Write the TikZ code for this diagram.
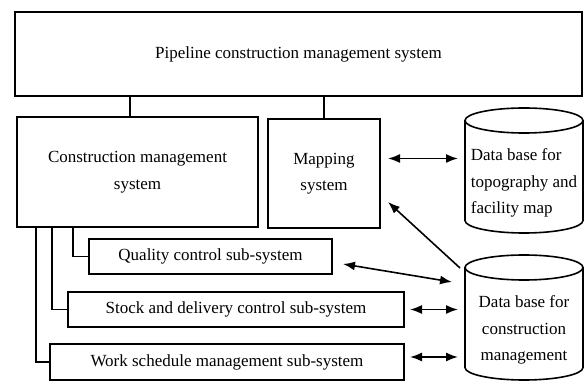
\documentclass[tikz,border=0pt]{standalone}
\usepackage{fontspec}
\setmainfont{Liberation Serif}
\usepackage{tikz}
\usetikzlibrary{arrows.meta,calc,positioning}
\newdimen\drumry
\drumry=12.5pt
\tikzstyle{module}=[
  draw=black,
  font={\fontsize{17}{26.5}\selectfont},
  inner sep=0pt,
  line width=1.6pt,
  outer sep=0pt,
  rectangle,
  align=center,
]
\tikzstyle{drum}=[
  font={\fontsize{17}{26.5}\selectfont},
  inner sep=0pt,
  outer sep=0pt,
  minimum width=118pt,
  minimum height=100pt,
]
\tikzstyle{link}=[
  draw=black,
  line width=1.6pt,
]
\tikzstyle{arrow}=[
  draw=black,
  line width=1.6pt,
]
\tikzset{
  tip/.tip={Latex[length=12pt,width=9pt]},
  >=tip,
}
% outline of a data base drum around a drum node
\newcommand{\drumline}[1]{%
  \draw [link] ([yshift=\drumry]#1.north west) -- ([yshift=\drumry]#1.south west)
    arc [start angle=180, end angle=360, x radius=59pt, y radius=\drumry]
    -- ([yshift=\drumry]#1.north east);
  \draw [link] ([yshift=\drumry]#1.north) ellipse [x radius=59pt, y radius=\drumry];
}

\begin{document}
\begin{tikzpicture}[x=1pt, y=-1pt]
  \useasboundingbox (0,0) rectangle (584,382);
  \node (pcms) [module, minimum width=567pt, minimum height=84pt] at (298.5,54) {Pipeline construction management system};
  \node (cms) [module, minimum width=241pt, minimum height=110pt] at (137.5,172) {Construction management\\system};
  \node (mapping) [module, minimum width=112pt, minimum height=109pt] at (324,173.5) {Mapping\\system};
  \node (quality) [module, minimum width=243pt, minimum height=35pt] at (210.5,256.5) {Quality control sub-system};
  \node (stock) [module, minimum width=336pt, minimum height=35pt] at (236,309.5) {Stock and delivery control sub-system};
  \node (work) [module, minimum width=354pt, minimum height=36pt] at (227,362) {Work schedule management sub-system};
  \node (dbmap) [drum, align=left] at (524,183) {Data base for\\topography and\\facility map};
  \node (dbcon) [drum, align=center] at (524,330) {Data base for\\construction\\management};
  \drumline{dbmap}
  \drumline{dbcon}
  \draw [link] ([xshift=-7.5pt]cms.north) -- ([xshift=-7.5pt]cms.north |- pcms.south);
  \draw [link] (mapping.north) -- (mapping.north |- pcms.south);
  \draw [link] ([xshift=56pt]cms.south west) |- (quality.west);
  \draw [link] ([xshift=35pt]cms.south west) |- (stock.west);
  \draw [link] ([xshift=19pt]cms.south west) |- (work.west);
  \draw [tip-tip, arrow, shorten <=8pt, shorten >=7pt] (mapping.15) -- (mapping.15 -| dbmap.west);
  \draw [-tip, arrow] ([shift={(-5pt,12pt)}]dbcon.north west) -- ([shift={(8pt,26pt)}]mapping.south east);
  \draw [tip-tip, arrow] ([shift={(11pt,-7.5pt)}]quality.east) -- ([shift={(-13pt,-2pt)}]dbcon.north west);
  \draw [tip-tip, arrow, shorten <=6pt, shorten >=7pt] (stock.east) -- (stock.east -| dbcon.west);
  \draw [tip-tip, arrow, shorten <=6pt, shorten >=7pt] ([yshift=5pt]work.east) -- ([yshift=5pt]work.east -| dbcon.west);
\end{tikzpicture}
\end{document}
